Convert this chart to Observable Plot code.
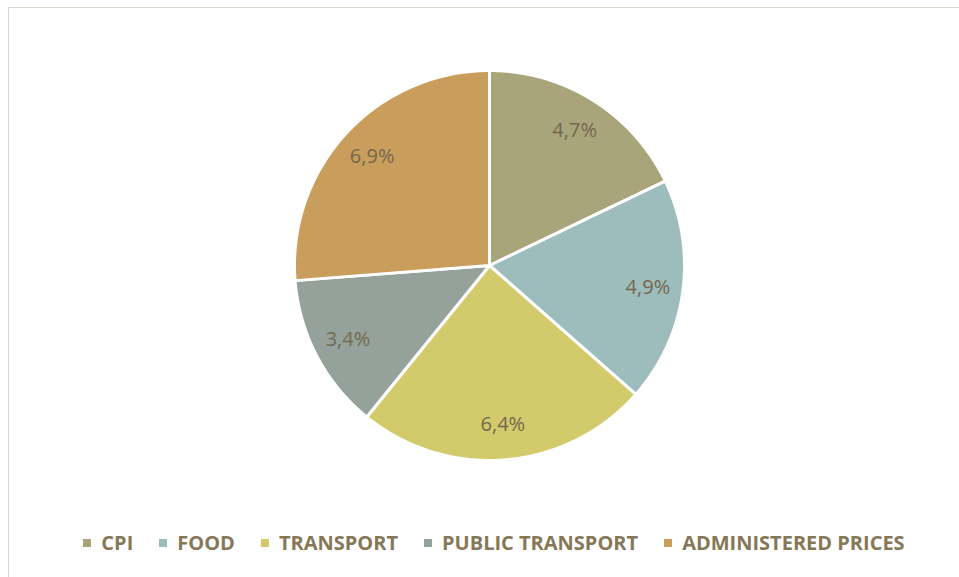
<!DOCTYPE html>
<html>
<head>
<meta charset="utf-8">
<script src="https://cdn.jsdelivr.net/npm/d3@7"></script>
<script src="https://cdn.jsdelivr.net/npm/@observablehq/plot@0.6"></script>
<style>
  html, body { margin: 0; padding: 0; background: #fff; width: 959px; height: 577px; overflow: hidden; }
  #frame { position: absolute; left: 8px; top: 7px; width: 2000px; height: 2000px; border-left: 1px solid #d8d6cc; border-top: 1px solid #d8d6cc; pointer-events: none; }
  #chart { position: absolute; left: 0; top: 0; }
  #legend { position: absolute; left: 0; top: 529px; width: 988px; display: flex; justify-content: center; align-items: center;
    font-family: "Open Sans", sans-serif; font-weight: 700; font-size: 20px; color: #857857; letter-spacing: 0px; }
  .item { display: flex; align-items: center; margin-right: 26px; white-space: nowrap; }
  .item:last-child { margin-right: 0; }
  .sw { width: 8px; height: 8px; margin-right: 10px; }
</style>
</head>
<body>
<div id="frame"></div>
<div id="chart"></div>
<div id="legend"></div>
<script>
const categories = ["CPI", "FOOD", "TRANSPORT", "PUBLIC TRANSPORT", "ADMINISTERED PRICES"];
const values = [4.7, 4.9, 6.4, 3.4, 6.9];
const labels = ["4,7%", "4,9%", "6,4%", "3,4%", "6,9%"];
const colors = ["#a9a57b", "#9dbdbc", "#d3cb6b", "#94a29b", "#c99e5c"];

const data = categories.map((c, i) => ({category: c, value: values[i], label: labels[i]}));
const arcs = d3.pie().value(d => d.value).sort(null)(data);

// Polygon points for each slice (unit circle, angle clockwise from 12 o'clock)
const pts = [];
for (const a of arcs) {
  const c = a.data.category;
  pts.push({category: c, x: 0, y: 0});
  const n = 120;
  for (let k = 0; k <= n; k++) {
    const t = a.startAngle + (a.endAngle - a.startAngle) * k / n;
    pts.push({category: c, x: Math.sin(t), y: Math.cos(t)});
  }
  pts.push({category: c, x: 0, y: 0});
}
const labelR = 0.82;
const labelPts = arcs.map(a => {
  const m = (a.startAngle + a.endAngle) / 2;
  return {label: a.data.label, x: labelR * Math.sin(m), y: labelR * Math.cos(m)};
});

const plot = Plot.plot({
  width: 959,
  height: 515,
  marginLeft: 294,
  marginRight: 275,
  marginTop: 70,
  marginBottom: 55,
  x: {domain: [-1, 1], axis: null},
  y: {domain: [-1, 1], axis: null},
  color: {domain: categories, range: colors},
  style: {background: "transparent"},
  marks: [
    Plot.line(pts, {x: "x", y: "y", z: "category", fill: "category", stroke: "white", strokeWidth: 3, strokeLinejoin: "round", curve: "linear"}),
    Plot.text(labelPts, {x: "x", y: "y", text: "label", fill: "#73684d", fontSize: 20, fontFamily: "Open Sans, sans-serif"})
  ]
});
document.getElementById("chart").appendChild(plot);

const leg = document.getElementById("legend");
categories.forEach((c, i) => {
  const it = document.createElement("div");
  it.className = "item";
  const sw = document.createElement("span");
  sw.className = "sw";
  sw.style.background = colors[i];
  const tx = document.createElement("span");
  tx.textContent = c;
  it.appendChild(sw); it.appendChild(tx);
  leg.appendChild(it);
});
</script>
</body>
</html>
